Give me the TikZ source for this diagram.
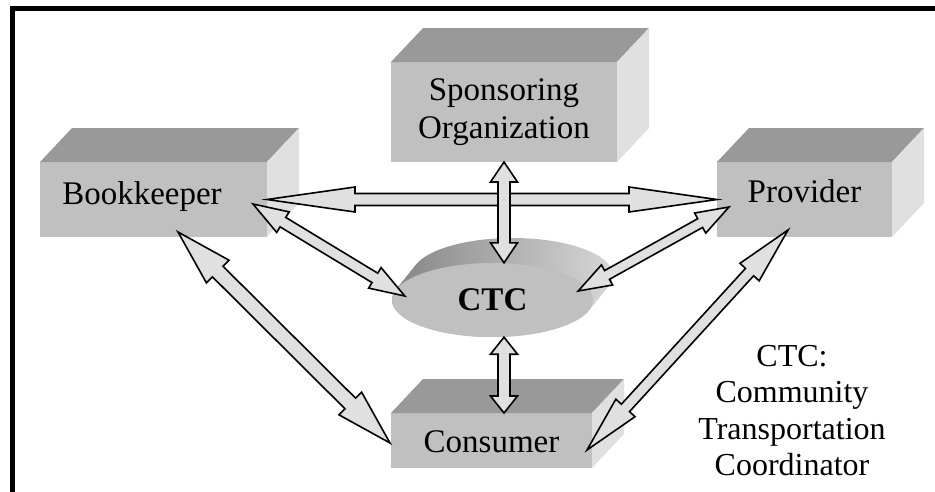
\documentclass[tikz,border=0pt]{standalone}
\usepackage{fontspec}
\setmainfont{Liberation Serif}
\usetikzlibrary{calc,shapes.geometric}

\definecolor{frontgray}{RGB}{192,192,192}
\definecolor{topgray}{RGB}{153,153,153}
\definecolor{sidegray}{RGB}{224,224,224}
\definecolor{discdark}{RGB}{140,140,140}
\definecolor{disclight}{RGB}{215,215,215}

% double headed block arrow: ends, head length, head half width, shaft half width
\newcommand{\twoway}[5]{%
	\coordinate (ha) at ($(#1)!#3!(#2)$);
	\coordinate (hb) at ($(#2)!#3!(#1)$);
	\filldraw[duplex] (#1) -- ($(ha)!#4!90:(#2)$) -- ($(ha)!#5!90:(#2)$)
		-- ($(hb)!#5!-90:(#1)$) -- ($(hb)!#4!-90:(#1)$) -- (#2)
		-- ($(hb)!#4!90:(#1)$) -- ($(hb)!#5!90:(#1)$)
		-- ($(ha)!#5!-90:(#2)$) -- ($(ha)!#4!-90:(#2)$) -- cycle;
}

\begin{document}
\begin{tikzpicture}[x=1pt,y=-1pt,
	face/.style={fill=frontgray,inner sep=0,outer sep=0},
	lbl/.style={font=\fontsize{33}{38}\selectfont,inner sep=0},
	duplex/.style={fill=sidegray,draw=black,line width=1.6pt,line join=miter}]
\useasboundingbox (0,0) rectangle (935,491);
\def\dx{32}
\def\dy{34}
% frame
\draw[line width=5pt] (12.5,500) -- (12.5,8.5) -- (940,8.5);
% boxes
\node[face,minimum width=227,minimum height=75] (book) at (153.5,199.5) {};
\node[face,minimum width=226,minimum height=100] (spons) at (504,112) {};
\node[face,minimum width=175,minimum height=75] (prov) at (804.5,199.5) {};
\node[face,minimum width=201,minimum height=55] (cons) at (491.5,440.5) {};
\foreach \n in {book,spons,prov,cons} {
	\fill[topgray] (\n.north west) -- ++(\dx,-\dy) -- ($(\n.north east)+(\dx,-\dy)$) -- (\n.north east) -- cycle;
	\fill[sidegray] (\n.north east) -- ++(\dx,-\dy) -- ($(\n.south east)+(\dx,-\dy)$) -- (\n.south east) -- cycle;
}
\node[lbl,anchor=base] (booktxt) at (142,204) {Bookkeeper};
\node[lbl,align=center] (sponstxt) at (spons) {Sponsoring\\Organization};
\node[lbl,anchor=base] (provtxt) at (804.5,202) {Provider};
\node[lbl,anchor=base] (constxt) at (491.5,452) {Consumer};
% CTC disc
\foreach \k in {0,...,20}
	\shade[left color=discdark,right color=disclight] ({492.5+\k},{300-1.25*\k}) ellipse [x radius=100.5,y radius=37];
\node[ellipse,fill=frontgray,inner sep=0,minimum width=201,minimum height=74,
	font=\fontsize{33}{38}\selectfont\bfseries] (ctc) at (492.5,300) {CTC};
\node[font=\fontsize{32}{36.5}\selectfont,align=center,inner sep=0,anchor=north] (legend) at (792,345)
	{CTC:\\Community\\Transportation\\Coordinator};
% arrow ends
\coordinate (sp1) at (spons.south |- ctc.north);
\coordinate (sp2) at (spons.south |- ctc.south);
\coordinate (sp3) at (spons.south |- cons.north);
\coordinate (bk1) at ($(book.east)+(-14,4.5)$);
\coordinate (bk2) at ($(ctc.west)+(13,-4)$);
\coordinate (bk3) at ($(book.south)+(24.5,-5)$);
\coordinate (cn1) at ($(cons.west)+(-1,2.5)$);
\coordinate (pv1) at ($(prov.west)+(12,7.5)$);
\coordinate (pv2) at ($(ctc.east)+(-15,-9)$);
\coordinate (pv3) at ($(prov.south)+(-16.5,-7)$);
\coordinate (cn2) at ($(cons.east)+(-5,9.5)$);
% arrows
\twoway{book.east}{prov.west}{88pt}{12.5pt}{6pt}
\twoway{spons.south}{sp1}{20pt}{13.5pt}{6pt}
\twoway{sp2}{sp3}{17pt}{13.5pt}{6pt}
\twoway{bk1}{bk2}{35pt}{12pt}{5.5pt}
\twoway{pv1}{pv2}{33pt}{11.5pt}{5pt}
\twoway{bk3}{cn1}{56pt}{16pt}{7.5pt}
\twoway{pv3}{cn2}{57pt}{13pt}{5.5pt}
\end{tikzpicture}
\end{document}
